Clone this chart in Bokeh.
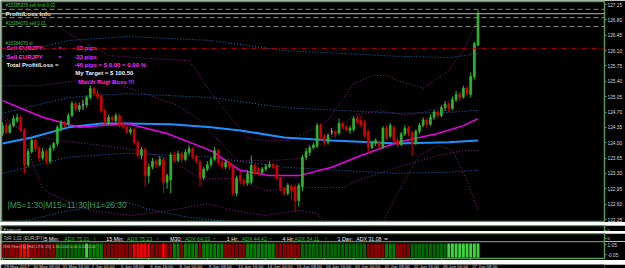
from bokeh.plotting import figure
from bokeh.layouts import column
from bokeh.models import (Range1d, FixedTicker, PrintfTickFormatter, LinearAxis,
                          Label, ColumnDataSource, Span)
from bokeh.core.properties import value
from bokeh.embed import file_html
from bokeh.resources import INLINE

# ---------------- data ----------------
opens = [124.21,124.39,124.24,124.39,124.50,124.58,124.28,123.50,123.80,124.05,
         123.87,123.65,123.80,123.58,123.88,123.98,124.30,124.46,124.42,124.62,
         124.89,124.76,124.86,124.86,125.03,125.24,125.12,125.05,124.73,124.46,
         124.58,124.50,124.62,124.42,124.36,124.24,124.30,124.01,123.71,123.85,
         123.25,123.45,123.58,123.50,123.62,123.10,123.15,123.72,123.60,123.75,
         123.62,123.78,123.86,123.68,123.55,123.20,123.40,123.50,123.62,123.82,
         123.55,123.45,123.55,123.45,122.85,123.25,123.14,123.08,123.10,123.48,
         123.41,123.32,123.40,123.46,123.50,123.48,123.19,122.96,122.85,123.00,
         123.00,122.68,123.00,123.67,123.78,123.89,123.92,124.39,124.15,124.01,
         124.25,124.25,124.22,124.44,124.36,124.28,124.30,124.55,124.50,124.45,
         124.25,123.89,124.00,124.00,123.90,124.33,124.15,124.35,124.05,123.96,
         124.20,124.33,124.22,123.98,124.26,124.40,124.52,124.42,124.58,124.70,
         124.62,124.80,124.88,124.78,124.98,125.10,125.05,125.24,125.10,125.51,
         126.22]
highs = [124.46,124.46,124.44,124.62,124.66,124.62,124.33,123.86,124.12,124.10,
         123.92,123.88,123.85,123.95,124.02,124.40,124.52,124.50,124.68,124.95,
         124.94,124.92,124.98,125.08,125.30,125.28,125.20,125.12,124.78,124.64,
         124.62,124.68,124.66,124.50,124.40,124.35,124.35,124.05,123.90,123.90,
         123.52,123.65,123.62,123.70,123.68,123.30,123.78,123.80,123.82,123.80,
         123.85,123.95,123.90,123.72,123.62,123.45,123.58,123.68,123.90,123.86,
         123.62,123.60,123.58,123.50,123.25,123.35,123.20,123.38,123.71,123.52,
         123.45,123.45,123.52,123.58,123.55,123.52,123.22,123.00,123.08,123.05,
         123.05,123.08,123.72,123.88,123.95,124.00,124.45,124.44,124.20,124.22,
         124.33,124.28,124.55,124.48,124.40,124.38,124.60,124.62,124.62,124.52,
         124.30,124.05,124.10,124.05,124.38,124.40,124.45,124.40,124.12,124.25,
         124.40,124.38,124.28,124.30,124.45,124.58,124.56,124.65,124.75,124.74,
         124.86,124.95,124.92,125.05,125.18,125.15,125.30,125.28,125.60,126.30,
         127.02]
lows = [124.15,124.20,124.20,124.35,124.45,124.24,123.30,123.44,123.75,123.80,
        123.55,123.60,123.50,123.52,123.82,123.92,124.25,124.35,124.38,124.58,
        124.72,124.70,124.75,124.80,124.98,125.08,124.98,124.68,124.40,124.40,
        124.46,124.45,124.35,124.32,124.20,124.18,123.96,123.65,123.62,123.00,
        123.08,123.40,123.42,123.45,122.85,122.95,122.85,123.55,123.55,123.55,
        123.58,123.72,123.62,123.52,123.00,123.15,123.35,123.44,123.58,123.48,
        123.40,123.40,123.38,122.78,122.78,123.05,123.00,123.02,123.05,123.25,
        123.25,123.28,123.35,123.42,123.40,123.14,122.90,122.78,122.80,122.70,
        122.43,122.55,122.90,123.60,123.70,123.85,123.88,124.05,123.95,123.96,
        124.18,124.12,124.18,124.30,124.25,124.20,124.25,124.42,124.35,124.10,
        123.75,123.85,123.92,123.85,123.85,124.05,124.10,123.98,123.90,123.92,
        124.15,124.15,123.70,123.95,124.20,124.35,124.35,124.38,124.52,124.55,
        124.58,124.72,124.70,124.74,124.92,124.95,125.00,125.08,125.03,125.45,
        126.20]
closes = [124.39,124.24,124.39,124.55,124.58,124.28,123.50,123.80,124.05,123.87,
          123.65,123.80,123.58,123.88,123.98,124.35,124.46,124.40,124.62,124.89,
          124.78,124.85,124.86,125.03,125.24,125.12,125.05,124.73,124.46,124.58,
          124.52,124.62,124.39,124.36,124.24,124.30,124.01,123.71,123.85,123.25,
          123.45,123.58,123.50,123.62,123.10,123.25,123.72,123.60,123.75,123.62,
          123.78,123.86,123.68,123.58,123.20,123.40,123.50,123.62,123.82,123.55,
          123.45,123.55,123.45,122.85,123.19,123.14,123.08,123.30,123.48,123.30,
          123.32,123.40,123.46,123.50,123.44,123.19,122.96,122.85,123.03,122.91,
          122.68,123.03,123.67,123.80,123.89,123.95,124.39,124.10,124.01,124.17,
          124.25,124.20,124.44,124.36,124.30,124.33,124.55,124.46,124.40,124.17,
          123.89,124.00,124.05,123.92,124.33,124.12,124.39,124.05,123.96,124.20,
          124.33,124.22,123.98,124.26,124.40,124.52,124.42,124.58,124.70,124.62,
          124.80,124.88,124.78,124.98,125.10,125.02,125.24,125.12,125.51,126.26,
          126.94]

# moving averages / bands : (bar index, price) vertices
ma_blue_x = [0, 8, 18, 27, 34, 46, 57, 65, 77, 90, 108, 122, 130]
ma_blue_y = [123.98, 124.12, 124.35, 124.44, 124.44, 124.42, 124.35, 124.28,
             124.12, 124.05, 123.98, 124.01, 124.05]
ma_mag_x = [0, 11, 21, 34, 45, 57, 65, 73, 81, 90, 98, 108, 119, 126, 130]
ma_mag_y = [124.96, 124.58, 124.35, 124.44, 124.21, 123.82, 123.37, 123.25,
            123.25, 123.44, 123.71, 124.01, 124.21, 124.39, 124.55]
env_x = [0, 18, 34, 57, 77, 108, 122, 130]
env_up2 = [125.97, 126.33, 126.42, 126.33, 126.10, 125.97, 125.94, 126.03]
env_up1 = [124.67, 125.03, 125.12, 125.03, 124.80, 124.67, 124.69, 124.74]
env_dn1 = [123.30, 123.67, 123.76, 123.67, 123.44, 123.30, 123.33, 123.37]
env_dn2_x = [0, 18, 34, 41, 51, 63, 77, 108, 117, 130]
env_dn2 = [122.10, 122.45, 122.64, 122.46, 122.30, 122.19, 122.05, 122.00, 122.19, 122.08]
# outer bands (purple dotted)
bb_up_x = [0, 5, 13, 18, 23, 29, 40, 51, 57, 63, 67, 72, 79, 89, 96, 101, 105, 108, 115, 122, 126, 130]
bb_up = [127.36, 127.13, 126.79, 126.49, 126.26, 125.99, 125.92, 125.87, 125.14, 124.51,
         124.10, 124.05, 124.05, 124.51, 125.35, 125.53, 125.53, 125.42, 125.24, 125.65,
         126.10, 126.79]
bb_dn_x = [0, 5, 8, 11, 13, 16, 24, 35, 46, 56, 63, 72, 81, 86, 88, 92, 100, 104, 108,
           110, 114, 119, 123, 127, 130]
bb_dn = [124.62, 124.28, 123.60, 122.96, 122.84, 122.73, 122.46, 122.34, 122.46, 122.61,
         122.46, 122.34, 122.46, 122.39, 122.18, 121.89, 121.89, 122.18, 122.84, 123.14,
         123.71, 123.94, 123.82, 123.14, 122.46]
# inner bands (purple dotted)
ib_up_x = [0, 10, 21, 29, 40, 48, 54, 64, 75, 81, 89, 96, 103, 111, 119, 126, 130]
ib_up = [125.30, 125.30, 125.42, 125.42, 125.08, 124.85, 124.51, 123.60, 123.60, 123.64,
         124.05, 124.62, 124.73, 124.62, 124.78, 125.19, 125.53]
ib_dn_x = [0, 8, 16, 27, 38, 46, 54, 63, 72, 81, 93, 97, 108, 119, 126, 130]
ib_dn = [124.55, 124.16, 124.05, 123.94, 123.82, 123.60, 123.18, 123.18, 122.91, 122.98,
         122.98, 123.14, 123.44, 123.71, 123.82, 123.82]

# order / price levels
bid_price = 126.94
order_levels = [127.04, 126.85, 126.65]
sl_level = 126.15

price_ticks = [127.15, 126.80, 126.45, 126.10, 125.75, 125.40, 125.05, 124.70,
               124.35, 124.00, 123.65, 123.30, 122.95, 122.60, 122.25]
time_tick_bars = [0, 8, 16, 24, 32, 40, 48, 56, 64, 72, 80, 88, 96, 104, 112, 120, 128]
time_labels = ["29 May 2017", "30 May 08:00", "31 May 16:00", "2 Jun 00:00",
               "5 Jun 08:00", "6 Jun 16:00", "8 Jun 00:00", "9 Jun 08:00",
               "12 Jun 16:00", "14 Jun 00:00", "15 Jun 08:00", "16 Jun 16:00",
               "20 Jun 00:00", "21 Jun 08:00", "22 Jun 16:00", "26 Jun 00:00",
               "27 Jun 08:00"]

# RSI filter state per bar (run lengths)
rsi_runs = [("R", 5), ("B", 3), ("R", 7), ("G", 8), ("L", 1), ("g", 4), ("R", 8),
            ("B", 5), ("R", 3), ("B", 1), ("R", 2), ("g", 2), ("R", 1), ("g", 4),
            ("R", 1), ("g", 6), ("R", 6), ("g", 8), ("R", 7), ("G", 18), ("R", 5),
            ("g", 3), ("R", 4), ("G", 10), ("L", 9)]

tor_names = ["5 Min:", "15 Min:", "M30:", "1 Hr:", "4 Hr:", "1 Day:"]
tor_adx = ["ADX 75.31", "ADX 75.23", "ADX 64.03", "ADX 44.42", "ADX 54.11", "ADX 31.08"]
tor_sign = ["\u2191", "\u2191", "\u2191", "\u2191", "\u2191", "="]

# ---------------- geometry ----------------
BG = "black"
FRAME = "#5a965a"
FONT = "Liberation Sans"
X0_PX, XS = 2.0, 3.67          # px of bar 0, px per bar
FL, FR = 1, 606                # frame left / right px
YS = 43.878                    # px per price unit (main)
AX_FS = "4.8px"


def bx(p):   # pixel x -> bar coordinate
    return (p - X0_PX) / XS


def pyv(p):  # pixel y -> price
    return 127.15 - (p - 4) / YS


xr = Range1d(bx(FL), bx(FR))


def style_axis(ax):
    ax.axis_line_color = FRAME
    ax.major_tick_line_color = FRAME
    ax.minor_tick_line_color = None
    ax.major_tick_out = 2
    ax.major_tick_in = 0
    ax.major_label_standoff = 1
    ax.major_label_text_color = "#d8d8d8"
    ax.major_label_text_font = FONT
    ax.major_label_text_font_size = AX_FS


def make_fig(h, y0, y1, axis=True, outline=True):
    p = figure(width=625, height=h, x_range=xr, y_range=Range1d(y0, y1),
               output_backend="svg", toolbar_location=None,
               x_axis_location=None, y_axis_location="right" if axis else None,
               min_border_left=FL, min_border_right=625 - FR,
               min_border_top=0, min_border_bottom=0,
               background_fill_color=BG, border_fill_color=BG,
               outline_line_color=FRAME if outline else None, outline_line_width=1.5)
    p.grid.visible = False
    if axis:
        style_axis(p.yaxis[0])
    return p


def txt(p, x, y, s, color, size, bold=False, align="left"):
    p.text(x=[x], y=[y], text=[s], text_color=color, text_font=value(FONT),
           text_font_size=value(size), text_font_style="bold" if bold else "normal",
           text_baseline="middle", text_align=align)


# ---------------- main chart ----------------
main = make_fig(222, pyv(222), pyv(1))
main.min_border_top = 1
main.yaxis[0].ticker = FixedTicker(ticks=price_ticks)
main.yaxis[0].formatter = PrintfTickFormatter(format="%.2f")

for lv in order_levels:
    main.add_layout(Span(location=lv, dimension="width", line_color="#8a8a8a",
                         line_width=1, line_dash="5 3"))
main.add_layout(Span(location=bid_price, dimension="width", line_color="#b8b8b8",
                     line_width=1))
main.add_layout(Span(location=sl_level, dimension="width", line_color="#b00000",
                     line_width=1, line_dash="5 2 1 2"))

for xs_, ys_ in [(env_x, env_up2), (env_x, env_up1), (env_x, env_dn1), (env_dn2_x, env_dn2)]:
    main.line(xs_, ys_, line_color="#1f6fc4", line_width=1, line_dash="1 2")
for xs_, ys_ in [(bb_up_x, bb_up), (bb_dn_x, bb_dn), (ib_up_x, ib_up), (ib_dn_x, ib_dn)]:
    main.line(xs_, ys_, line_color="#8a1a8a", line_width=1, line_dash="1 2")

main.line(ma_blue_x, ma_blue_y, line_color="#1e90ff", line_width=2)
main.line(ma_mag_x, ma_mag_y, line_color="#ee00ee", line_width=1.5)

n = len(closes)
cols = []
for o, c in zip(opens, closes):
    cols.append("#2db82d" if c > o else ("#d40000" if c < o else "#b0b0b0"))
src = ColumnDataSource(dict(x=list(range(n)), o=opens, h=highs, l=lows, c=closes,
                            top=[max(a, b) for a, b in zip(opens, closes)],
                            bot=[min(a, b) for a, b in zip(opens, closes)],
                            col=cols))
main.segment(x0="x", y0="l", x1="x", y1="h", line_color="col", line_width=1, source=src)
main.vbar(x="x", width=0.5, top="top", bottom="bot", fill_color="col",
          line_color="col", line_width=0.8, source=src)

txt(main, bx(5), pyv(5), "#15385378 sell limit 0.02", "#3ec43e", "4.5px")
txt(main, bx(5), pyv(12.5), "Profit/Loss Info", "#f0f0f0", "6.2px", bold=True)
txt(main, bx(5), pyv(23), "#15384070 sell 0.01", "#3ec43e", "4.5px")
txt(main, bx(5), pyv(43), "#15384070 sl", "#3ec43e", "4.5px")
mag = "#ff2bff"
for yy, pips in [(47, "-13 pips"), (56, "-33 pips")]:
    txt(main, bx(6), pyv(yy), "Sell EURJPY", mag, "6px", bold=True)
    txt(main, bx(58), pyv(yy), "=", mag, "6px", bold=True)
    txt(main, bx(74), pyv(yy), pips, mag, "6px", bold=True)
txt(main, bx(6), pyv(64), "Total Profit/Loss  =", "#f0f0f0", "6px", bold=True)
txt(main, bx(74), pyv(64), "-46 pips  = $ 0.00 = 0.00 %", mag, "6px", bold=True)
txt(main, bx(75), pyv(72.5), "My Target = $ 100.50", "#f0f0f0", "6px", bold=True)
txt(main, bx(78), pyv(81), "Masih Rugi Boss !!!", mag, "6px", bold=True)
txt(main, bx(7), pyv(204), "|M5=1:30|M15=11:30|H1=26:30", "#3a9a5a", "8.5px")

main.add_layout(Label(x=bx(607.5), y=bid_price, text="126.94", text_color="black",
                      text_font=FONT, text_font_size=AX_FS, text_baseline="middle",
                      background_fill_color="#c8f5c8"))

# ---------------- exposure panel ----------------
exp_ = make_fig(9, -1, 1)
exp_.yaxis[0].ticker = FixedTicker(ticks=[0])
exp_.yaxis[0].major_label_text_font_size = "4.2px"
txt(exp_, bx(3), 0.1, "Exposure", "#c8c8c8", "4.2px")

# ---------------- ToR panel ----------------
tor = make_fig(10, -1, 1)
tor.yaxis[0].ticker = FixedTicker(ticks=[0])
tor.yaxis[0].major_label_text_font_size = "4.2px"
txt(tor, bx(3), 0, "ToR 1.02 (EURJPY)", "#b8b8b8", "4.6px")
name_px = [44, 106, 170, 227, 283, 338]
adx_px = [64, 127, 185, 242, 295, 357]
sign_px = [93, 156, 213, 270, 325, 385]
for i in range(6):
    last = i == 5
    txt(tor, bx(name_px[i]), 0, tor_names[i], "#f0f0f0", "5.4px")
    txt(tor, bx(adx_px[i]), 0, tor_adx[i], "#e8e8e8" if last else "#22c022", "5.2px")
    txt(tor, bx(sign_px[i]), 0, tor_sign[i], "#e8e8e8" if last else "#22c022", "6px", bold=True)

# ---------------- RSI filter panel ----------------
RS = 9.545
rtop = 1.05 + 3 / RS
rsi = make_fig(19, rtop - 17 / RS, rtop)
rsi.min_border_bottom = 2
rsi.yaxis[0].ticker = FixedTicker(ticks=[1.05, -0.05])
rsi.yaxis[0].formatter = PrintfTickFormatter(format="%.2f")
cmap = {"R": "#8e0000", "B": "#f00000", "G": "#006a00", "g": "#008200", "L": "#3fd43f"}
states = []
for k, cnt in rsi_runs:
    states += [k] * cnt
rcol = [cmap[s] for s in states]
rsi.vbar(x=list(range(len(states))), width=0.8, top=1.15, bottom=-0.3,
         fill_color=rcol, line_color=None)
txt(rsi, bx(3), rtop - 5 / RS, "RSI Filter (5) (H4) LTS. 25) 1.00 0.00 0.00 0.00 0.00",
    "#c0c0c0", "4px")

xax = LinearAxis(ticker=FixedTicker(ticks=time_tick_bars),
                 major_label_overrides={b: "" for b in time_tick_bars})
style_axis(xax)
xax.major_label_standoff = 0
xax.major_label_text_font_size = "1px"
rsi.add_layout(xax, "below")

# ---------------- time label strip ----------------
strip = make_fig(8, 0, 1, axis=False, outline=False)
strip.text(x=[b + 0.4 for b in time_tick_bars], y=[0.72] * len(time_tick_bars),
           text=time_labels, text_color="#d8d8d8", text_font=value(FONT),
           text_font_size=value("4.4px"), text_baseline="middle", text_align="left")

layout = column(main, exp_, tor, rsi, strip, spacing=0)
open("out.html", "w").write(file_html(layout, INLINE))
